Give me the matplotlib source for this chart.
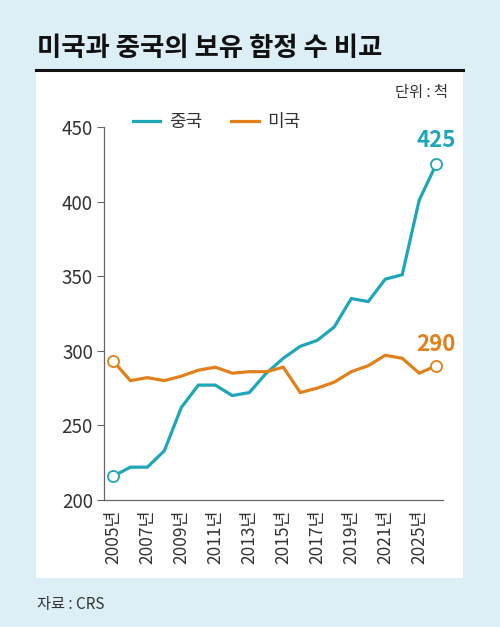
import matplotlib
matplotlib.use('Agg')
import matplotlib.pyplot as plt
from matplotlib.lines import Line2D
from matplotlib.patches import Rectangle

# data (battle force ships)
years = ['2005', '2006', '2007', '2008', '2009', '2010', '2011', '2012', '2013', '2014',
         '2015', '2016', '2017', '2018', '2019', '2020', '2021', '2022', '2025', '2030']
china = [216, 222, 222, 233, 262, 277, 277, 270, 272, 285,
         295, 303, 307, 316, 335, 333, 348, 351, 401, 425]
usa = [293, 280, 282, 280, 283, 287, 289, 285, 286, 286,
       289, 272, 275, 279, 286, 290, 297, 295, 285, 290]
tick_years = ['2005', '2007', '2009', '2011', '2013', '2015', '2017', '2019', '2021', '2025']
yticks = [200, 250, 300, 350, 400, 450]

teal = '#1fa6b8'
orange = '#e2801c'
bg = '#dceff6'
kr = ['Noto Sans CJK KR', 'DejaVu Sans']

W, H = 500, 627
fig = plt.figure(figsize=(W/100, H/100), dpi=100, facecolor=bg)

#white panel and the black rule above it
fig.patches.append(Rectangle((36/W, 1-578/H), (463-36)/W, (578-70)/H,
                             transform=fig.transFigure, facecolor='white', edgecolor='none', zorder=-10))
fig.lines.append(Line2D([36/W, 463/W], [1-70/H, 1-70/H], transform=fig.transFigure,
                        color='#111111', lw=2.2))

fig.text(37/W, 1-48/H, '미국과 중국의 보유 함정 수 비교', family=kr, fontsize=19,
         fontweight='heavy', va='center', ha='left', color='#111111')
fig.text(448/W, 1-92/H, '단위 : 척', family=kr, fontsize=11, va='center', ha='right', color='#333333')
fig.text(37/W, 1-605/H, '자료 : CRS', family=kr, fontsize=11, va='center', ha='left', color='#333333')

ax = fig.add_axes([104/W, 1-500/H, (443-104)/W, (500-127)/H])
ax.set_facecolor('none')
x = list(range(len(years)))
ax.plot(x, china, color=teal, lw=2.3, label='중국', solid_joinstyle='miter', zorder=3)
ax.plot(x, usa, color=orange, lw=2.3, label='미국', solid_joinstyle='miter', zorder=3)

# open circles at both ends
for series, c in [(china, teal), (usa, orange)]:
    ax.plot([x[0], x[-1]], [series[0], series[-1]], 'o', ms=8, mfc='white', mec=c,
            mew=1.3, zorder=4, clip_on=False)

ax.annotate(str(china[-1]), (x[-1], china[-1]), xytext=(0, 9), textcoords='offset points',
            ha='center', va='bottom', color=teal, fontsize=16, family=kr, fontweight='semibold')
ax.annotate(str(usa[-1]), (x[-1], usa[-1]), xytext=(0, 7), textcoords='offset points',
            ha='center', va='bottom', color=orange, fontsize=16, family=kr, fontweight='semibold')

ax.set_xlim(-0.55, 19.4)
ax.set_ylim(200, 450)
ax.set_yticks(yticks)
ax.set_yticklabels([str(v) for v in yticks], family=kr, fontsize=13.5, color='#333333')
ax.set_xticks([years.index(t) for t in tick_years])
ax.set_xticklabels([t+'년' for t in tick_years], rotation=90, family=kr,
                   fontsize=12.5, color='#333333')
ax.tick_params(axis='x', length=0, pad=7)
ax.tick_params(axis='y', length=5, width=0.8, color='#666666', pad=3)

for s in ['top', 'right']:
    ax.spines[s].set_visible(False)
for s in ['left', 'bottom']:
    ax.spines[s].set_color('#666666')
    ax.spines[s].set_linewidth(0.9)

leg = ax.legend(loc='center', bbox_to_anchor=((217-104)/339, (500-122)/373), ncol=2,
                frameon=False, handlelength=1.5, handletextpad=0.5, columnspacing=1.6,
                prop={'family': kr, 'size': 13})
for t in leg.get_texts():
    t.set_color('#333333')

fig.savefig('out.png', dpi=100, facecolor=bg)
